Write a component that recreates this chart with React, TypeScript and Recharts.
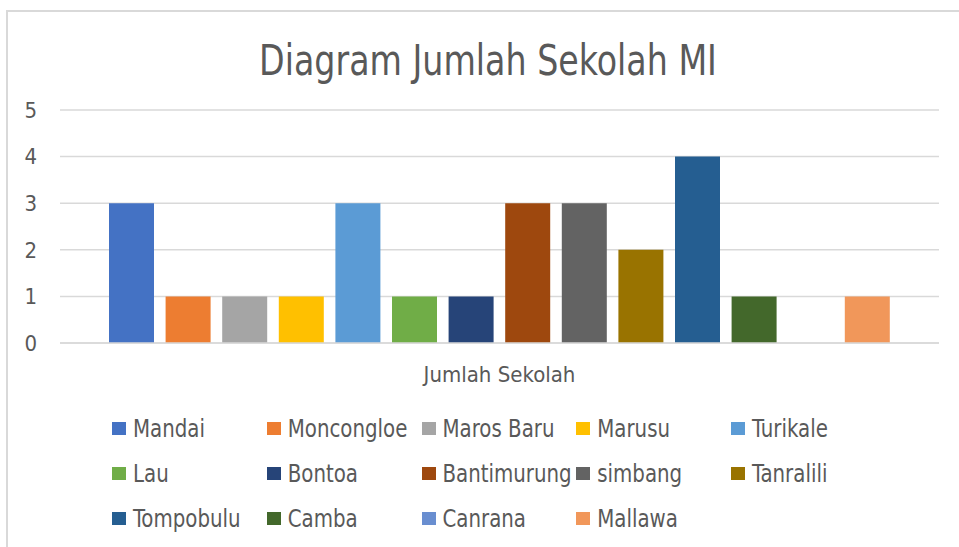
import React from "react";
import { BarChart, Bar, XAxis, YAxis, CartesianGrid, Legend } from "recharts";

const categories = ["Jumlah Sekolah"];
const seriesNames = [
  "Mandai", "Moncongloe", "Maros Baru", "Marusu", "Turikale",
  "Lau", "Bontoa", "Bantimurung", "simbang", "Tanralili",
  "Tompobulu", "Camba", "Canrana", "Mallawa",
];
const seriesValues = [3, 1, 1, 1, 3, 1, 1, 3, 3, 2, 4, 1, 0, 1];
const seriesColors = [
  "#4472C4", "#ED7D31", "#A5A5A5", "#FFC000", "#5B9BD5",
  "#70AD47", "#264478", "#9E480E", "#636363", "#997300",
  "#255E91", "#43682B", "#698ED0", "#F1975A",
];
const yTicks = [0, 1, 2, 3, 4, 5];
const title = "Diagram Jumlah Sekolah MI";

const FONT = "'DejaVu Sans Condensed', 'DejaVu Sans', sans-serif";
const TEXT = "#595959";

const data = categories.map((c) => {
  const row: Record<string, string | number> = { category: c };
  seriesNames.forEach((n, i) => { row[n] = seriesValues[i]; });
  return row;
});

const LegendContent = () => (
  <div style={{ display: "grid", gridTemplateColumns: "repeat(5, 154.75px)", fontFamily: FONT, fontSize: 22, color: TEXT }}>
    {seriesNames.map((n, i) => (
      <div key={n} style={{ height: 45, display: "flex", alignItems: "center", whiteSpace: "nowrap" }}>
        <span style={{ display: "inline-block", width: 14, height: 13, background: seriesColors[i], marginRight: 7, flex: "none" }} />
        <span style={{ display: "inline-block", transform: "scaleY(1.12)" }}>{n}</span>
      </div>
    ))}
  </div>
);

export default function App() {
  return (
    <div style={{ position: "absolute", left: 0, top: 0, width: 959, height: 547, background: "#fff", overflow: "hidden" }}>
      <div style={{ position: "absolute", left: 6, top: 10, width: 1000, height: 600, borderLeft: "2px solid #d9d9d9", borderTop: "2px solid #d9d9d9" }} />
      <svg style={{ position: "absolute", left: 0, top: 0 }} width={959} height={100}>
        <text x={488} y={75} textAnchor="middle" fontFamily={FONT} fontSize={37} fill={TEXT}
          transform="translate(0 75) scale(1 1.15) translate(0 -75)">{title}</text>
      </svg>
      <div style={{ position: "absolute", left: 0, top: 0 }}>
        <BarChart
          width={959}
          height={547}
          data={data}
          margin={{ top: 110, right: 20, left: 0, bottom: 144 }}
          barSize={45}
          barGap={11.6}
        >
          <CartesianGrid vertical={false} stroke="#d9d9d9" strokeWidth={1.5} />
          <XAxis
            dataKey="category"
            height={60}
            tickSize={0}
            tickMargin={23}
            axisLine={{ stroke: "#d9d9d9", strokeWidth: 1.5 }}
            tick={{ fill: TEXT, fontSize: 22, fontFamily: FONT }}
          />
          <YAxis
            width={60}
            domain={[0, 5]}
            ticks={yTicks}
            interval={0}
            tickSize={0}
            tickMargin={23}
            axisLine={false}
            tickLine={false}
            tick={{ fill: TEXT, fontSize: 22, fontFamily: FONT }}
          />
          <Legend
            layout="horizontal"
            verticalAlign="middle"
            align="center"
            wrapperStyle={{ left: 112, top: 406, width: 800 }}
            content={<LegendContent />}
          />
          {seriesNames.map((n, i) => (
            <Bar key={n} dataKey={n} fill={seriesColors[i]} isAnimationActive={false} />
          ))}
        </BarChart>
      </div>
    </div>
  );
}
